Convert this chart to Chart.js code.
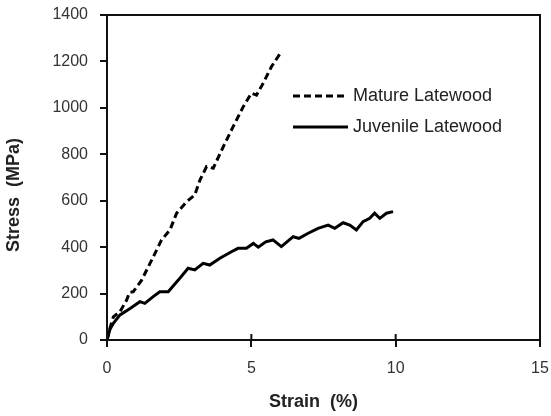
<!DOCTYPE html>
<html>
<head>
<meta charset="utf-8">
<script src="https://cdn.jsdelivr.net/npm/chart.js@4/dist/chart.umd.min.js"></script>
<style>
html,body{margin:0;padding:0;background:#fff;}
#wrap{width:551px;height:416px;position:relative;}
</style>
</head>
<body>
<div id="wrap"><canvas id="c" width="551" height="416"></canvas></div>
<script>
const seriesNames = ["Mature Latewood", "Juvenile Latewood"];
const matureStrain = [0, 0.1, 0.22, 0.45, 0.68, 0.78, 0.91, 1.2, 1.55, 1.89, 2.18, 2.41, 2.76, 3.04, 3.22, 3.45, 3.68, 4.03, 4.37, 4.72, 5.0, 5.18, 5.41, 5.7, 6.04];
const matureStress = [0, 50, 100, 122, 172, 205, 208, 258, 345, 431, 474, 546, 596, 625, 689, 747, 740, 833, 919, 1005, 1063, 1055, 1106, 1178, 1242];
const juvStrain = [0, 0.1, 0.22, 0.45, 0.8, 1.14, 1.31, 1.6, 1.83, 2.12, 2.47, 2.81, 3.04, 3.33, 3.56, 3.91, 4.31, 4.54, 4.83, 5.07, 5.24, 5.5, 5.75, 6.04, 6.45, 6.65, 6.97, 7.31, 7.66, 7.89, 8.18, 8.41, 8.64, 8.87, 9.1, 9.27, 9.45, 9.68, 9.91];
const juvStress = [0, 45, 72, 108, 136, 165, 158, 187, 208, 208, 258, 309, 302, 330, 323, 352, 380, 395, 395, 416, 400, 423, 431, 402, 445, 438, 460, 481, 495, 481, 505, 495, 474, 510, 524, 546, 524, 546, 553];
const xTicks = [0, 5, 10, 15];
const yTicks = [0, 200, 400, 600, 800, 1000, 1200, 1400];
const xTitle = "Strain  (%)    ";
const yTitle = "Stress  (MPa)       ";

const toPts = (xs, ys) => xs.map((x, i) => ({x: x, y: ys[i]}));

const dashes = [[7, 4], []];
const FONT = '"Liberation Sans", Arial, sans-serif';

const framePlugin = {
  id: 'frame',
  afterDraw(chart) {
    const {ctx, chartArea: a} = chart;
    ctx.save();
    ctx.strokeStyle = '#111';
    ctx.lineWidth = 2;
    ctx.beginPath();
    ctx.moveTo(a.left, a.top);
    ctx.lineTo(a.right, a.top);
    ctx.lineTo(a.right, a.bottom);
    ctx.stroke();
    const xs = chart.scales.x;
    xs.ticks.forEach(t => {
      const px = xs.getPixelForValue(t.value);
      ctx.beginPath();
      ctx.moveTo(px, a.bottom);
      ctx.lineTo(px, a.bottom - 6);
      ctx.stroke();
    });
    const lx = a.left + 186, ly = [a.top + 81, a.top + 112];
    chart.data.datasets.forEach((ds, i) => {
      ctx.beginPath();
      ctx.setLineDash(ds.borderDash || []);
      ctx.lineWidth = 3;
      ctx.strokeStyle = '#000';
      ctx.moveTo(lx, ly[i]);
      ctx.lineTo(lx + 55, ly[i]);
      ctx.stroke();
      ctx.setLineDash([]);
      ctx.fillStyle = '#222';
      ctx.font = '18px ' + FONT;
      ctx.textBaseline = 'middle';
      ctx.textAlign = 'left';
      ctx.fillText(ds.label, lx + 60, ly[i]);
    });
    ctx.restore();
  }
};

new Chart(document.getElementById('c'), {
  type: 'scatter',
  data: {
    datasets: [
      {label: seriesNames[0], data: toPts(matureStrain, matureStress), showLine: true, borderColor: '#000', borderWidth: 3, borderDash: dashes[0], pointRadius: 0, tension: 0},
      {label: seriesNames[1], data: toPts(juvStrain, juvStress), showLine: true, borderColor: '#000', borderWidth: 3, borderDash: dashes[1], pointRadius: 0, tension: 0}
    ]
  },
  options: {
    responsive: false,
    animation: false,
    layout: {padding: {top: 15, right: 11, left: 0, bottom: 0}},
    plugins: {legend: {display: false}, tooltip: {enabled: false}},
    scales: {
      x: {
        type: 'linear', min: 0, max: 15,
        afterBuildTicks(s) { s.ticks = xTicks.map(v => ({value: v})); },
        afterFit(s) { s.height = 76; s.paddingLeft = 0; s.paddingRight = 0; },
        grid: {drawOnChartArea: false, drawTicks: true, tickLength: 7, color: '#111', lineWidth: 2},
        border: {display: true, color: '#111', width: 2},
        ticks: {color: '#333', padding: 12, font: {family: FONT, size: 16}, maxRotation: 0, callback: v => String(v)},
        title: {display: true, text: xTitle, color: '#222', padding: {top: 0, bottom: 3}, font: {family: FONT, size: 18, weight: 'bold'}}
      },
      y: {
        type: 'linear', min: 0, max: 1400,
        afterBuildTicks(s) { s.ticks = yTicks.map(v => ({value: v})); },
        afterFit(s) { s.width = 107; s.paddingTop = 0; s.paddingBottom = 0; },
        grid: {drawOnChartArea: false, drawTicks: true, tickLength: 7, color: '#111', lineWidth: 2},
        border: {display: true, color: '#111', width: 2},
        ticks: {color: '#333', padding: 12, font: {family: FONT, size: 16}, callback: v => String(v)},
        title: {display: true, text: yTitle, color: '#222', padding: {top: 3, bottom: 0}, font: {family: FONT, size: 18, weight: 'bold'}}
      }
    }
  },
  plugins: [framePlugin]
});
</script>
</body>
</html>
